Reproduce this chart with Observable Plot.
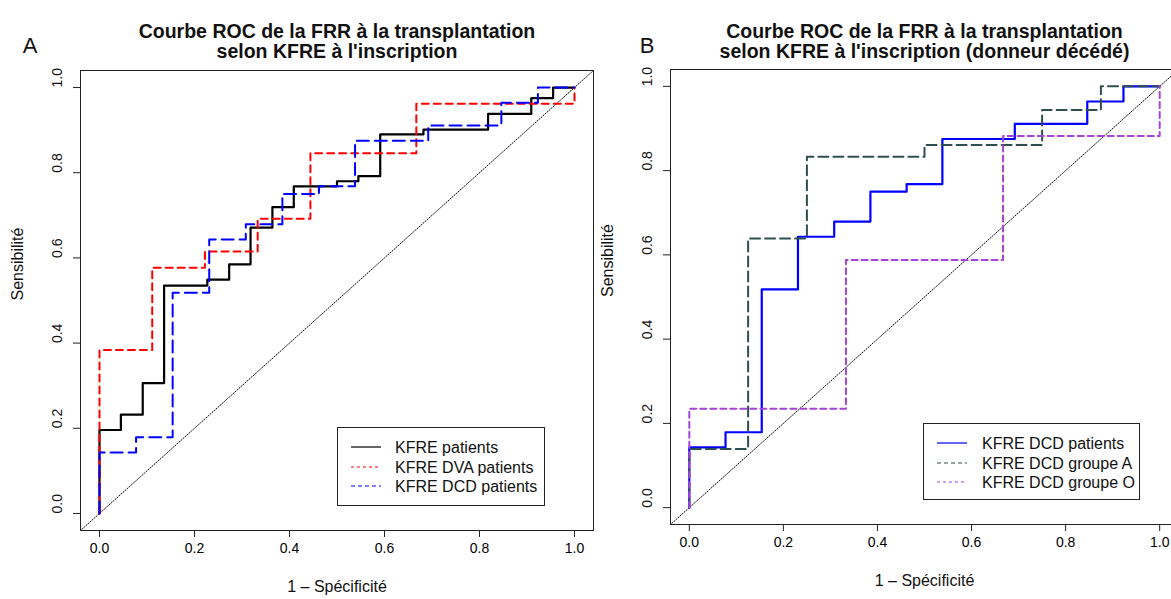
<!DOCTYPE html>
<html>
<head>
<meta charset="utf-8">
<script src="https://cdn.jsdelivr.net/npm/d3@7"></script>
<script src="https://cdn.jsdelivr.net/npm/@observablehq/plot@0.6"></script>
<style>
  html, body { margin: 0; padding: 0; background: #fff; overflow: hidden; }
  #wrap { position: relative; width: 1171px; height: 599px; overflow: hidden; font-family: "Liberation Sans", Arial, Helvetica, sans-serif; }
  .panel { position: absolute; top: 0; }
  .legend { position: absolute; }
</style>
</head>
<body>
<div id="wrap"></div>
<script>
// ---------- Data ----------
const xTicks = [0, 0.2, 0.4, 0.6, 0.8, 1.0];
const yTicks = [0, 0.2, 0.4, 0.6, 0.8, 1.0];
const axisDomain = [-0.04, 1.04];

// Panel A
const titleA = ["Courbe ROC de la FRR à la transplantation", "selon KFRE à l'inscription"];
const fprPatients = [0, 0, 0.045, 0.091, 0.136, 0.227, 0.273, 0.318, 0.364, 0.409, 0.5, 0.545, 0.591, 0.682, 0.818, 0.909, 0.955, 1];
const tprPatients = [0, 0.196, 0.232, 0.306, 0.535, 0.549, 0.585, 0.671, 0.719, 0.768, 0.780, 0.792, 0.890, 0.901, 0.938, 0.975, 1.0, 1.0];
const fprDVA = [0, 0, 0.111, 0.222, 0.333, 0.444, 0.667, 1, 1];
const tprDVA = [0, 0.384, 0.577, 0.615, 0.692, 0.846, 0.962, 0.962, 1];
const fprDCD = [0, 0, 0.077, 0.154, 0.231, 0.308, 0.385, 0.462, 0.538, 0.692, 0.846, 0.923, 1];
const tprDCD = [0, 0.143, 0.179, 0.518, 0.643, 0.679, 0.750, 0.768, 0.875, 0.911, 0.964, 1.0, 1.0];

// Panel B
const titleB = ["Courbe ROC de la FRR à la transplantation", "selon KFRE à l'inscription (donneur décédé)"];
const fprGroupeA = [0, 0, 0.125, 0.25, 0.5, 0.75, 0.875, 1];
const tprGroupeA = [0, 0.139, 0.639, 0.833, 0.861, 0.944, 1.0, 1.0];
const fprGroupeO = [0, 0, 0.333, 0.667, 1, 1];
const tprGroupeO = [0, 0.235, 0.588, 0.882, 0.882, 1];

const legendA = ["KFRE patients", "KFRE DVA patients", "KFRE DCD patients"];
const legendB = ["KFRE DCD patients", "KFRE DCD groupe A", "KFRE DCD groupe O"];

const xLabel = "1 – Spécificité";
const yLabel = "Sensibilité";

// ---------- Helpers ----------
const rows = (fpr, tpr) => fpr.map((x, i) => ({x, y: tpr[i]}));
const FONT = '"Liberation Sans", Arial, Helvetica, sans-serif';

function panel({curves, titles, letter, letterDx, letterDy, width, height, mt, mr, mb, ml, titleDy}) {
  const diag = axisDomain.map(d => ({x: d, y: d}));
  const marks = [
    Plot.line(diag, {x: "x", y: "y", stroke: "#000", strokeWidth: 1, strokeDasharray: "1,1.6"}),
    ...curves.map(c => Plot.line(rows(c.fpr, c.tpr), {
      x: "x", y: "y", curve: "step-after", stroke: c.color, strokeWidth: c.width,
      strokeDasharray: c.dash || null
    })),
    Plot.frame({stroke: "#222", strokeWidth: 1}),
    Plot.axisX({ticks: xTicks, tickSize: 7, tickPadding: 6, fontSize: 14, tickFormat: d => d.toFixed(1), stroke: "#222", label: null}),
    Plot.axisY({ticks: yTicks, tickSize: 7, tickFormat: () => "", stroke: "#222", label: null}),
    Plot.text(yTicks, {y: d => d, frameAnchor: "left", dx: -23, rotate: -90, text: d => d.toFixed(1), fontSize: 14, fill: "#111"}),
    Plot.text([xLabel], {frameAnchor: "bottom", dy: 61, text: d => d, fontSize: 16, fill: "#111"}),
    Plot.text([yLabel], {frameAnchor: "left", dx: -63, rotate: -90, text: d => d, fontSize: 16, fill: "#111"}),
    Plot.text([titles[0]], {frameAnchor: "top", dy: titleDy[0], text: d => d, fontSize: 19.5, fontWeight: "bold", fill: "#111"}),
    Plot.text([titles[1]], {frameAnchor: "top", dy: titleDy[1], text: d => d, fontSize: 19.5, fontWeight: "bold", fill: "#111"}),
    Plot.text([letter], {frameAnchor: "top-left", dx: letterDx, dy: letterDy, text: d => d, textAnchor: "middle", fontSize: 22, fill: "#111"})
  ];
  return Plot.plot({
    width, height,
    marginTop: mt, marginRight: mr, marginBottom: mb, marginLeft: ml,
    x: {domain: axisDomain, axis: null},
    y: {domain: axisDomain, axis: null},
    style: {fontFamily: FONT, overflow: "visible", background: "transparent"},
    marks
  });
}

function legend(items, box) {
  const ns = "http://www.w3.org/2000/svg";
  const svg = document.createElementNS(ns, "svg");
  svg.setAttribute("width", box.w + 2);
  svg.setAttribute("height", box.h + 2);
  svg.setAttribute("class", "legend");
  svg.style.left = (box.x - 1) + "px";
  svg.style.top = (box.y - 1) + "px";
  const r = document.createElementNS(ns, "rect");
  r.setAttribute("x", 1.5); r.setAttribute("y", 1.5);
  r.setAttribute("width", box.w - 1); r.setAttribute("height", box.h - 1);
  r.setAttribute("fill", "#fff"); r.setAttribute("stroke", "#222");
  svg.appendChild(r);
  items.forEach((it, i) => {
    const cy = 1 + box.rowY[i];
    const l = document.createElementNS(ns, "line");
    l.setAttribute("x1", 1 + box.lx1); l.setAttribute("x2", 1 + box.lx2);
    l.setAttribute("y1", cy); l.setAttribute("y2", cy);
    l.setAttribute("stroke", it.color); l.setAttribute("stroke-width", 1.2);
    if (it.ldash) l.setAttribute("stroke-dasharray", it.ldash);
    svg.appendChild(l);
    const t = document.createElementNS(ns, "text");
    t.setAttribute("x", 1 + box.tx); t.setAttribute("y", cy);
    t.setAttribute("dy", "0.35em");
    t.setAttribute("font-size", 16);
    t.setAttribute("font-family", FONT);
    t.setAttribute("fill", "#111");
    t.textContent = it.label;
    svg.appendChild(t);
  });
  return svg;
}

// ---------- Build ----------
const wrap = document.getElementById("wrap");

const curvesA = [
  {fpr: fprPatients, tpr: tprPatients, color: "#000", width: 2.2},
  {fpr: fprDVA, tpr: tprDVA, color: "#ff0000", width: 2, dash: "7,5"},
  {fpr: fprDCD, tpr: tprDCD, color: "#0000ff", width: 2, dash: "12,6"}
];
const curvesB = [
  {fpr: fprDCD, tpr: tprDCD, color: "#0000ff", width: 2.2},
  {fpr: fprGroupeA, tpr: tprGroupeA, color: "#2f4f4f", width: 2, dash: "10,5"},
  {fpr: fprGroupeO, tpr: tprGroupeO, color: "#a444d8", width: 2, dash: "6,4"}
];

const pA = panel({curves: curvesA, titles: titleA, letter: "A", letterDx: -50.5, letterDy: -33,
  width: 600, height: 599, mt: 70, mr: 7, mb: 69, ml: 80, titleDy: [-46.5, -26]});
pA.classList.add("panel"); pA.style.left = "0px";
wrap.appendChild(pA);

const pB = panel({curves: curvesB, titles: titleB, letter: "B", letterDx: -23.5, letterDy: -32,
  width: 600, height: 599, mt: 69, mr: 22, mb: 75, ml: 70, titleDy: [-45.5, -25]});
pB.classList.add("panel"); pB.style.left = "600px";
wrap.appendChild(pB);

wrap.appendChild(legend(
  legendA.map((label, i) => ({label, color: curvesA[i].color, ldash: [null, "3,3", "4,3"][i]})),
  {x: 337, y: 427, w: 208, h: 79, rowY: [20, 40, 59], lx1: 14, lx2: 44, tx: 58}
));
wrap.appendChild(legend(
  legendB.map((label, i) => ({label, color: curvesB[i].color, ldash: [null, "4,3", "3,3"][i]})),
  {x: 923, y: 423, w: 217, h: 77, rowY: [20, 40, 59], lx1: 14, lx2: 44, tx: 59}
));
</script>
</body>
</html>
